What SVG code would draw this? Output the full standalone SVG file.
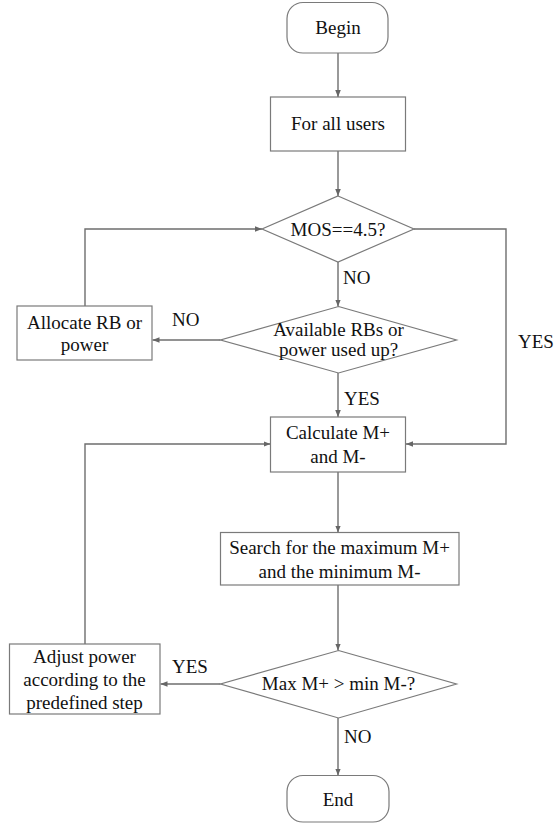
<svg xmlns="http://www.w3.org/2000/svg" width="559" height="826" viewBox="0 0 559 826">
  <style>
    .shape { fill: #ffffff; stroke: #7a7a7a; stroke-width: 1.2; }
    .wire { fill: none; stroke: #6e6e6e; stroke-width: 1.4; marker-end: url(#arrow); }
  </style>
  <defs>
    <marker id="arrow" viewBox="0 0 10 10" refX="10" refY="5" markerWidth="7" markerHeight="7" markerUnits="userSpaceOnUse" orient="auto">
      <path d="M0,1 L10,5 L0,9 Z" fill="#666666"/>
    </marker>
  </defs>

  <rect width="559" height="826" fill="#ffffff"/>

  <!-- connectors and their branch labels -->
  <g id="connectors">
    <path class="wire" d="M338,53 V97"/>
    <path class="wire" d="M338,151 V196"/>
    <path class="wire" d="M338,262 V306.5"/>
    <path class="wire" d="M220.5,340 H152.5"/>
    <path class="wire" d="M85,306 V229 H262"/>
    <path class="wire" d="M414,229 H506 V444 H406"/>
    <path class="wire" d="M338,373 V417"/>
    <path class="wire" d="M338,472 V532.5"/>
    <path class="wire" d="M338,585 V650.5"/>
    <path class="wire" d="M220.5,684 H160.5"/>
    <path class="wire" d="M85,644 V444 H270.5"/>
    <path class="wire" d="M338,718 V775.5"/>
    <g font-family="Liberation Serif" font-size="19" fill="#111111">
      <text x="343" y="284">NO</text>
      <text x="172" y="326">NO</text>
      <text x="344" y="405">YES</text>
      <text x="518" y="348">YES</text>
      <text x="172" y="673">YES</text>
      <text x="344" y="743">NO</text>
    </g>
  </g>

  <g font-family="Liberation Serif" font-size="19" fill="#111111" text-anchor="middle">
    <g id="begin">
      <rect class="shape" x="287" y="2.5" width="101" height="50.5" rx="16"/>
      <text x="338" y="34">Begin</text>
    </g>

    <g id="for-all-users">
      <rect class="shape" x="270.5" y="97" width="135" height="54"/>
      <text x="338" y="130">For all users</text>
    </g>

    <g id="mos-check">
      <polygon class="shape" points="338,196 414,229 338,262 262,229"/>
      <text x="338" y="236">MOS==4.5?</text>
    </g>

    <g id="resources-check">
      <polygon class="shape" points="338.5,306.5 456.5,340 338.5,373 220.5,340"/>
      <text x="338.5" y="336">Available RBs or</text>
      <text x="338.5" y="356">power used up?</text>
    </g>

    <g id="allocate">
      <rect class="shape" x="17" y="306" width="135" height="54"/>
      <text x="84.5" y="329">Allocate RB or</text>
      <text x="84.5" y="351">power</text>
    </g>

    <g id="calculate">
      <rect class="shape" x="270.5" y="417" width="135" height="55"/>
      <text x="338" y="439">Calculate M+</text>
      <text x="338" y="463">and M-</text>
    </g>

    <g id="search">
      <rect class="shape" x="220.5" y="532.5" width="238.5" height="52.5"/>
      <text x="339.5" y="554">Search for the maximum M+</text>
      <text x="339.5" y="578">and the minimum M-</text>
    </g>

    <g id="compare">
      <polygon class="shape" points="338.5,650.5 456.5,684 338.5,718 220.5,684"/>
      <text x="338.5" y="690">Max M+ &gt; min M-?</text>
    </g>

    <g id="adjust">
      <rect class="shape" x="9.5" y="644" width="150.5" height="70"/>
      <text x="84.5" y="663">Adjust power</text>
      <text x="84.5" y="686">according to the</text>
      <text x="84.5" y="709">predefined step</text>
    </g>

    <g id="end">
      <rect class="shape" x="287" y="775.5" width="102" height="46.5" rx="16"/>
      <text x="338" y="806">End</text>
    </g>
  </g>
</svg>
